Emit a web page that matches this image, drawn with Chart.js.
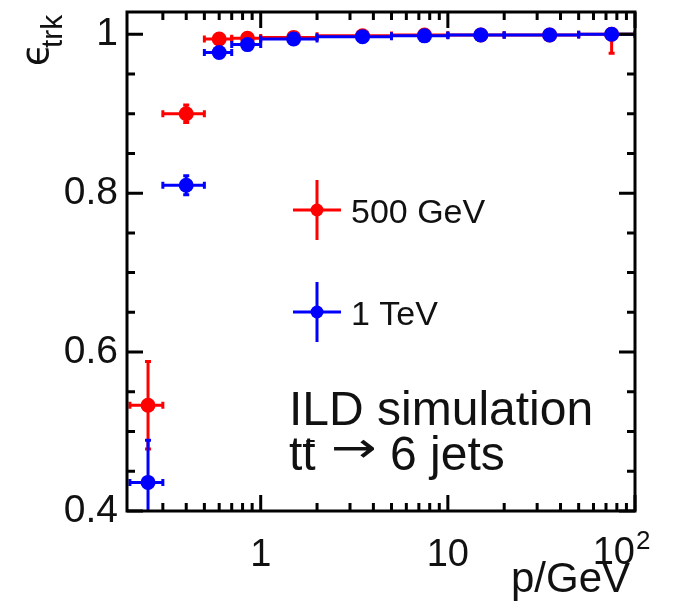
<!DOCTYPE html>
<html>
<head>
<meta charset="utf-8">
<script src="https://cdn.jsdelivr.net/npm/chart.js@4.4.1/dist/chart.umd.min.js"></script>
<style>
  body { margin: 0; background: #fff; }
  #wrap { width: 679px; height: 602px; }
</style>
</head>
<body>
<div id="wrap"><canvas id="graficoEff" width="679" height="602"></canvas></div>
<script>
  // momentum bins (GeV)
  const pCentro = [0.25, 0.4, 0.6, 0.85, 1.5, 3.5, 7.5, 15, 35, 75];
  const pMin = [0.2, 0.3, 0.5, 0.7, 1, 2, 5, 10, 20, 50];
  const pMax = [0.3, 0.5, 0.7, 1, 2, 5, 10, 20, 50, 100];

  const eff500 = [0.533, 0.900, 0.994, 0.995, 0.996, 0.998, 0.999, 0.999, 0.999, 1.0];
  const errBaixo500 = [0.055, 0.011, 0.003, 0.003, 0.002, 0.001, 0.001, 0.001, 0.001, 0.024];
  const errCima500 = [0.055, 0.011, 0.003, 0.003, 0.002, 0.001, 0.001, 0.001, 0.001, 0.0];

  const eff1TeV = [0.436, 0.810, 0.977, 0.987, 0.994, 0.997, 0.998, 0.999, 0.999, 1.0];
  const errBaixo1TeV = [0.053, 0.012, 0.004, 0.003, 0.002, 0.001, 0.001, 0.001, 0.001, 0.001];
  const errCima1TeV = [0.053, 0.012, 0.004, 0.003, 0.002, 0.001, 0.001, 0.001, 0.001, 0.0];

  const yTicks = [0.4, 0.6, 0.8, 1.0];
  const yMinor = [0.45, 0.5, 0.55, 0.65, 0.7, 0.75, 0.85, 0.9, 0.95];
  const xTicks = [1, 10, 100];
  const xMinor = [0.3, 0.4, 0.5, 0.6, 0.7, 0.8, 0.9, 2, 3, 4, 5, 6, 7, 8, 9, 20, 30, 40, 50, 60, 70, 80, 90];

  const fonte = '"Liberation Sans", Arial, sans-serif';
  const vermelho = '#ff0000';
  const azul = '#0000ff';

  function pontos(ys, lo, hi) {
    return pCentro.map((p, i) => ({ x: p, y: ys[i], xLo: pMin[i], xHi: pMax[i], eLo: lo[i], eHi: hi[i] }));
  }

  const barrasErro = {
    id: 'barrasErro',
    beforeDatasetDraw(chart, args) {
      const ctx = chart.ctx;
      const xs = chart.scales.x, ys = chart.scales.y;
      const a = chart.chartArea;
      const ds = chart.data.datasets[args.index];
      ctx.save();
      ctx.beginPath();
      ctx.rect(a.left, a.top, a.right - a.left, a.bottom - a.top);
      ctx.clip();
      ctx.strokeStyle = ds.borderColor;
      ctx.lineWidth = 3;
      ds.data.forEach(d => {
        const px = xs.getPixelForValue(d.x), py = ys.getPixelForValue(d.y);
        const x1 = xs.getPixelForValue(d.xLo), x2 = xs.getPixelForValue(d.xHi);
        const y1 = ys.getPixelForValue(d.y - d.eLo), y2 = ys.getPixelForValue(d.y + d.eHi);
        ctx.beginPath();
        ctx.moveTo(x1, py); ctx.lineTo(x2, py);
        ctx.moveTo(x1, py - 3.5); ctx.lineTo(x1, py + 3.5);
        ctx.moveTo(x2, py - 3.5); ctx.lineTo(x2, py + 3.5);
        if (y1 - y2 > 1) {
          ctx.moveTo(px, y1); ctx.lineTo(px, y2);
          if (d.eLo > 0) { ctx.moveTo(px - 3, y1); ctx.lineTo(px + 3, y1); }
          if (d.eHi > 0) { ctx.moveTo(px - 3, y2); ctx.lineTo(px + 3, y2); }
        }
        ctx.stroke();
      });
      ctx.restore();
    }
  };

  const moldura = {
    id: 'moldura',
    afterDraw(chart) {
      const ctx = chart.ctx;
      const a = chart.chartArea;
      const xs = chart.scales.x, ys = chart.scales.y;
      ctx.save();
      ctx.strokeStyle = '#000';
      ctx.lineWidth = 3;
      ctx.strokeRect(a.left, a.top, a.right - a.left, a.bottom - a.top);

      ctx.beginPath();
      yTicks.concat(yMinor).forEach(v => {
        const y = ys.getPixelForValue(v);
        const len = yTicks.includes(v) ? 16 : 8;
        ctx.moveTo(a.left, y); ctx.lineTo(a.left + len, y);
        ctx.moveTo(a.right, y); ctx.lineTo(a.right - len, y);
      });
      xTicks.concat(xMinor).forEach(v => {
        const x = xs.getPixelForValue(v);
        const len = xTicks.includes(v) ? 16 : 8;
        ctx.moveTo(x, a.bottom); ctx.lineTo(x, a.bottom - len);
        ctx.moveTo(x, a.top); ctx.lineTo(x, a.top + len);
      });
      ctx.stroke();

      // x tick labels
      ctx.fillStyle = '#111';
      ctx.textBaseline = 'alphabetic';
      ctx.font = '38px ' + fonte;
      xTicks.forEach(v => {
        const x = xs.getPixelForValue(v);
        if (v === 100) {
          ctx.textAlign = 'right';
          ctx.fillText('10', x, 564);
          ctx.textAlign = 'left';
          ctx.font = '26px ' + fonte;
          ctx.fillText('2', x + 1, 549);
          ctx.font = '38px ' + fonte;
        } else {
          ctx.textAlign = 'center';
          ctx.fillText(String(v), x, 566);
        }
      });

      // axis titles
      ctx.textAlign = 'right';
      ctx.font = '42px ' + fonte;
      ctx.fillText('p/GeV', 630, 592);

      ctx.save();
      ctx.translate(48, 66);
      ctx.rotate(-Math.PI / 2);
      ctx.textAlign = 'left';
      ctx.font = '37px "DejaVu Sans", ' + fonte;
      ctx.fillText('\u03f5', 0, 0);
      ctx.font = '30px ' + fonte;
      ctx.fillText('trk', 18, 14);
      ctx.restore();

      // legend
      [[vermelho, '500 GeV', 210], [azul, '1 TeV', 312]].forEach(([cor, txt, y]) => {
        ctx.strokeStyle = cor;
        ctx.fillStyle = cor;
        ctx.lineWidth = 3;
        ctx.beginPath();
        ctx.moveTo(317, y - 30); ctx.lineTo(317, y + 30);
        ctx.moveTo(293, y); ctx.lineTo(341, y);
        ctx.stroke();
        ctx.beginPath();
        ctx.arc(317, y, 6.5, 0, Math.PI * 2);
        ctx.fill();
        ctx.fillStyle = '#111';
        ctx.textAlign = 'left';
        ctx.font = '34px ' + fonte;
        ctx.fillText(txt, 351, y + 13);
      });

      // annotation
      ctx.fillStyle = '#111';
      ctx.font = '48px ' + fonte;
      ctx.textAlign = 'left';
      ctx.fillText('ILD simulation', 289, 425);
      const wt = ctx.measureText('t').width;
      ctx.fillText('t', 289, 470);
      ctx.fillText('t', 289 + wt, 470);
      ctx.fillRect(289 + wt + 4, 440, wt - 5, 2);
      ctx.fillText('6 jets', 390, 470);
      ctx.save();
      ctx.translate(331, 462);
      ctx.scale(1.3, 1);
      ctx.font = '42px "DejaVu Sans", ' + fonte;
      ctx.fillText('\u2192', 0, 0);
      ctx.restore();
      ctx.restore();
    }
  };

  new Chart(document.getElementById('graficoEff'), {
    type: 'scatter',
    data: {
      datasets: [{
        label: '500 GeV',
        data: pontos(eff500, errBaixo500, errCima500),
        backgroundColor: vermelho,
        borderColor: vermelho,
        pointRadius: 7.5,
        pointBorderWidth: 0,
        order: 2
      }, {
        label: '1 TeV',
        data: pontos(eff1TeV, errBaixo1TeV, errCima1TeV),
        backgroundColor: azul,
        borderColor: azul,
        pointRadius: 7.5,
        pointBorderWidth: 0,
        order: 1
      }]
    },
    options: {
      responsive: false,
      animation: false,
      events: [],
      layout: { padding: { top: 12, right: 44, left: 0, bottom: 0 } },
      plugins: { legend: { display: false }, tooltip: { enabled: false } },
      scales: {
        x: {
          type: 'logarithmic',
          min: 0.193,
          max: 100,
          grid: { display: false, drawTicks: false },
          border: { display: false },
          ticks: { display: false },
          afterFit(s) { s.height = 91; s.paddingLeft = 0; s.paddingRight = 0; }
        },
        y: {
          min: 0.4,
          max: 1.028,
          grid: { display: false, drawTicks: false },
          border: { display: false },
          afterBuildTicks(s) { s.ticks = yTicks.map(v => ({ value: v })); },
          ticks: {
            padding: 9,
            color: '#111',
            font: { family: fonte, size: 39 },
            callback: v => v === 1 ? '1' : v.toFixed(1)
          },
          afterFit(s) { s.width = 127; s.paddingTop = 0; s.paddingBottom = 0; }
        }
      }
    },
    plugins: [barrasErro, moldura]
  });
</script>
</body>
</html>
